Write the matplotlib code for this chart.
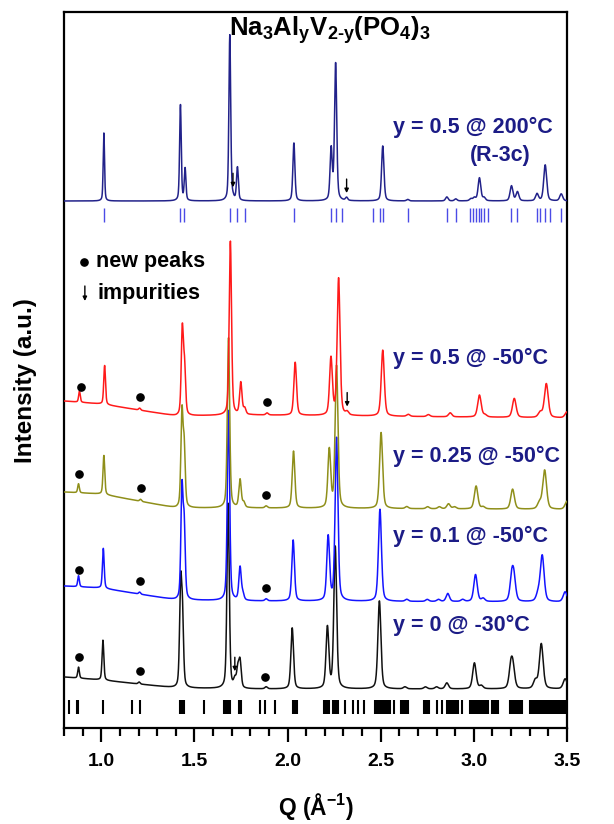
import numpy as np
import matplotlib
matplotlib.use('Agg')
import matplotlib.pyplot as plt

plt.rcParams['font.family'] = ['Liberation Sans', 'DejaVu Sans']
plt.rcParams['mathtext.fontset'] = 'custom'
plt.rcParams['mathtext.rm'] = 'Liberation Sans'
plt.rcParams['mathtext.bf'] = 'Liberation Sans:bold'
plt.rcParams['mathtext.it'] = 'Liberation Sans:italic'

# ---------------- data ----------------
series_labels = ['y = 0.5 @ 200°C', 'y = 0.5 @ -50°C', 'y = 0.25 @ -50°C',
                 'y = 0.1 @ -50°C', 'y = 0 @ -30°C']

# peak positions (Q, 1/Å) and heights (a.u.) for each pattern
pos_05_200 = [1.014, 1.425, 1.450, 1.690, 1.707, 1.731, 2.034, 2.234, 2.258, 2.317,
              2.511, 2.645, 2.855, 2.903, 2.984, 3.003, 3.030, 3.055, 3.202, 3.234,
              3.339, 3.383, 3.469]
amp_05_200 = [68, 96, 32, 166, 2, 33, 58, 51, 137, 3,
              55, 1.5, 4, 2, 2, 3, 23, 3, 15, 9,
              7, 36, 7]

pos_05_m50 = [0.883, 1.018, 1.206, 1.435, 1.447, 1.693, 1.749, 1.770, 1.890, 2.041,
              2.233, 2.274, 2.320, 2.511, 2.648, 2.756, 2.873, 3.030, 3.060, 3.217,
              3.356, 3.389, 3.500]
amp_05_m50 = [11, 39, 2, 85, 46, 174, 32, 6, 2, 53,
              57, 137, 3, 66, 2, 2, 4, 22, 2, 19,
              5, 34, 6]

pos_025_m50 = [0.878, 1.014, 1.211, 1.433, 1.445, 1.683, 1.745, 1.765, 1.885, 2.032,
               2.224, 2.263, 2.502, 2.640, 2.752, 2.815, 2.864, 2.896, 3.012, 3.050,
               3.208, 3.352, 3.380, 3.500]
amp_025_m50 = [9, 39, 2, 93, 58, 170, 28, 5, 2, 57,
               58, 142, 76, 2, 2, 2, 5, 2, 23, 2,
               20, 6, 39, 8]

pos_01_m50 = [0.878, 1.011, 1.206, 1.433, 1.445, 1.683, 1.745, 1.760, 1.885, 2.030,
              2.218, 2.263, 2.496, 2.640, 2.750, 2.810, 2.860, 2.940, 3.009, 3.050,
              3.204, 3.215, 3.345, 3.367, 3.490]
amp_01_m50 = [11, 40, 2, 108, 71, 190, 33, 6, 2, 61,
              64, 163, 92, 2, 2, 2, 8, 2, 27, 3,
              23, 20, 7, 46, 10]

pos_0_m30 = [0.878, 1.009, 1.203, 1.426, 1.436, 1.681, 1.717, 1.733, 1.745, 1.885,
             2.025, 2.214, 2.256, 2.493, 2.630, 2.740, 2.800, 2.855, 3.003, 3.040,
             3.199, 3.210, 3.330, 3.362, 3.490]
amp_0_m30 = [11, 40, 2, 98, 66, 185, 8, 18, 26, 2,
             61, 61, 142, 88, 2, 2, 2, 6, 26, 3,
             21, 18, 8, 45, 10]

# background shape (relative to the right-hand baseline) at these Q knots
bg_q = [0.8, 1.0, 1.2, 1.4, 1.8, 3.5]
bg_05_200 = [0, 0, 0, 0, 0, 0]
bg_05_m50 = [17, 14, 8, 2, 3, 0]
bg_025_m50 = [17.5, 15.5, 8.5, 1.5, 1.5, 0]
bg_01_m50 = [16, 14, 8, 2, 1, 0]
bg_0_m30 = [12, 9, 5, 1, 0, 0]

# new-peak markers (Q) and impurity arrows (Q)
newpeak_05_m50 = [0.889, 1.206, 1.890]
newpeak_025_m50 = [0.880, 1.211, 1.885]
newpeak_01_m50 = [0.883, 1.206, 1.885]
newpeak_0_m30 = [0.880, 1.206, 1.878]
impurity_05_200 = [1.707, 2.317]
impurity_05_m50 = [2.320]
impurity_0_m30 = [1.717]

# reflection positions
refl_R3c = [1.014, 1.425, 1.446, 1.690, 1.731, 1.770, 2.036, 2.231, 2.260, 2.290,
            2.460, 2.496, 2.511, 2.645, 2.855, 2.903, 2.980, 2.998, 3.012, 3.025,
            3.037, 3.052, 3.075, 3.201, 3.231, 3.339, 3.356, 3.383, 3.410, 3.469]
refl_lowT = [0.826, 0.869, 0.877, 1.010, 1.164, 1.206, 1.422, 1.429, 1.436, 1.443,
             1.550, 1.660, 1.667, 1.675, 1.682, 1.690, 1.738, 1.745, 1.752, 1.851,
             1.878, 1.932, 2.028, 2.036, 2.044, 2.052, 2.197, 2.205, 2.213, 2.220,
             2.245, 2.253, 2.261, 2.270, 2.308, 2.353, 2.380, 2.410, 2.470, 2.478,
             2.486, 2.494, 2.502, 2.510, 2.518, 2.526, 2.534, 2.542, 2.550, 2.570,
             2.610, 2.618, 2.626, 2.634, 2.642, 2.648, 2.735, 2.743, 2.751, 2.760,
             2.800, 2.827, 2.855, 2.863, 2.871, 2.880, 2.888, 2.896, 2.905, 2.915,
             2.939, 2.980, 2.988, 2.996, 3.004, 3.012, 3.020, 3.028, 3.036, 3.044,
             3.052, 3.060, 3.068, 3.076, 3.097, 3.105, 3.113, 3.121, 3.129, 3.196,
             3.204, 3.212, 3.220, 3.228, 3.236, 3.244, 3.252, 3.258, 3.300, 3.308,
             3.316, 3.324, 3.332, 3.340, 3.348, 3.356, 3.364, 3.372, 3.380, 3.388,
             3.396, 3.404, 3.412, 3.420, 3.428, 3.436, 3.444, 3.452, 3.460, 3.468,
             3.476, 3.484, 3.492]

x_ticks = [1.0, 1.5, 2.0, 2.5, 3.0, 3.5]

# ---------------- layout / style ----------------
offsets = [527, 310, 218.5, 126, 39]
widths = [0.0085, 0.011, 0.011, 0.011, 0.011]
colors = ['#22228a', '#ff1a1a', '#8f8f1a', '#1414ff', '#111111']
label_color = '#1c1c86'
label_y = [601, 370, 271.3, 191.3, 103]

patterns = [(pos_05_200, amp_05_200, bg_05_200),
            (pos_05_m50, amp_05_m50, bg_05_m50),
            (pos_025_m50, amp_025_m50, bg_025_m50),
            (pos_01_m50, amp_01_m50, bg_01_m50),
            (pos_0_m30, amp_0_m30, bg_0_m30)]
newpeaks = [None, newpeak_05_m50, newpeak_025_m50, newpeak_01_m50, newpeak_0_m30]
impurities = [impurity_05_200, impurity_05_m50, None, None, impurity_0_m30]

q = np.linspace(0.8, 3.5, 4000)


def profile(qq, pos, amp, w, bg):
    y = np.interp(qq, bg_q, bg).astype(float)
    for p, a in zip(pos, amp):
        f = w * (1 + 0.5 * (p - 1.0))
        g = np.exp(-4 * np.log(2) * ((qq - p) / f) ** 2)
        l = 1.0 / (1 + 4 * ((qq - p) / f) ** 2)
        y += a * (0.6 * g + 0.4 * l)
    return y


fig = plt.figure(figsize=(6.14, 8.24), dpi=100)
ax = fig.add_axes([64 / 614, (824 - 728) / 824, 503 / 614, 716 / 824])

curves = []
for i, (pos, amp, bg) in enumerate(patterns):
    curves.append(offsets[i] + profile(q, pos, amp, widths[i], bg))

# draw bottom first so upper patterns lie on top
for i in range(4, -1, -1):
    ax.plot(q, curves[i], color=colors[i], lw=1.1, zorder=3 + (5 - i))

for i in range(5):
    if newpeaks[i] is not None:
        for qp in newpeaks[i]:
            yc = np.interp(qp, q, curves[i])
            ax.plot(qp, yc + 11, 'o', color='black', ms=5.2, zorder=10)
    if impurities[i] is not None:
        for qp in impurities[i]:
            yc = np.interp(qp, q, curves[i])
            ax.annotate('', xy=(qp, yc + 4), xytext=(qp, yc + 18),
                        arrowprops=dict(arrowstyle='-|>', color='black', lw=1.0,
                                        mutation_scale=6, shrinkA=0, shrinkB=0),
                        zorder=10)

# reflection ticks
ax.vlines(refl_R3c, 506, 520, color='#4b4be6', lw=1.0, zorder=2)
ax.vlines(refl_lowT, 14, 28, color='black', lw=1.5, zorder=2)

# labels
lab_font = dict(fontsize=15.5, fontweight='bold', color=label_color)
for i in range(5):
    ax.text(2.566, label_y[i], series_labels[i], ha='left', va='center', **lab_font)
ax.text(3.14, 573, '(R-3c)', ha='center', va='center', **lab_font)

ax.text(2.228, 698, r'$\mathbf{Na_3Al_yV_{2‐y}(PO_4)_3}$', ha='center', va='center',
        fontsize=18.5, color='black')

ax.plot(0.905, 466, 'o', color='black', ms=5.2)
ax.text(0.97, 466, 'new peaks', ha='left', va='center', fontsize=15.5,
        fontweight='bold')
ax.annotate('', xy=(0.912, 427), xytext=(0.912, 442),
            arrowprops=dict(arrowstyle='-|>', color='black', lw=1.0,
                            mutation_scale=6, shrinkA=0, shrinkB=0))
ax.text(0.98, 435, 'impurities', ha='left', va='center', fontsize=15.5,
        fontweight='bold')

ax.set_xlim(0.8, 3.5)
ax.set_ylim(0, 716)
ax.set_yticks([])
ax.set_xticks(x_ticks)
ax.set_xticklabels([f'{t:.1f}' for t in x_ticks])
ax.set_xticks(np.arange(0.8, 3.501, 0.1), minor=True)
ax.tick_params(axis='x', which='major', direction='out', length=10, width=1.6,
               labelsize=14, pad=8)
ax.tick_params(axis='x', which='minor', direction='out', length=5.5, width=1.6)
for lab in ax.get_xticklabels():
    lab.set_fontweight('bold')
for s in ax.spines.values():
    s.set_linewidth(1.6)

ax.set_xlabel(r'Q (Å$^{\mathbf{-1}}$)', fontsize=16.5, fontweight='bold', labelpad=15)
ax.set_ylabel('Intensity (a.u.)', fontsize=17.5, fontweight='bold')
ax.yaxis.set_label_coords(-0.054, 0.485)

fig.savefig('out.png', dpi=100)
